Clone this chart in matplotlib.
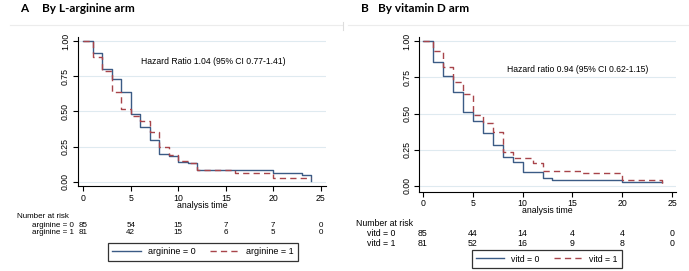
import matplotlib
matplotlib.use("Agg")
import matplotlib.pyplot as plt
from matplotlib.lines import Line2D
from matplotlib.transforms import blended_transform_factory

# ============================================
# Data
# ============================================

risk_times = [0, 5, 10, 15, 20, 25]

# Panel A: by L-arginine arm
times_a0 = [0, 1, 2, 3, 4, 5, 6, 7, 8, 9, 10, 11, 12, 20, 23, 24]
surv_a0 = [1.0, 0.915, 0.80, 0.73, 0.637, 0.48, 0.39, 0.30, 0.20, 0.185, 0.14, 0.13, 0.083, 0.06, 0.048, 0.007]
times_a1 = [0, 1, 2, 3, 4, 5, 6, 7, 8, 9, 10, 11, 12, 16, 20, 24]
surv_a1 = [1.0, 0.886, 0.79, 0.64, 0.52, 0.47, 0.43, 0.356, 0.245, 0.19, 0.147, 0.135, 0.08, 0.06, 0.024, 0.024]
risk_a0 = [85, 54, 15, 7, 7, 0]
risk_a1 = [81, 42, 15, 6, 5, 0]
labels_a = ["arginine = 0", "arginine = 1"]
title_a = "By L-arginine arm"
hr_a = "Hazard Ratio 1.04 (95% CI 0.77-1.41)"

# Panel B: by vitamin D arm
times_b0 = [0, 1, 2, 3, 4, 5, 6, 7, 8, 9, 10, 12, 13, 20, 24]
surv_b0 = [1.0, 0.855, 0.758, 0.652, 0.509, 0.451, 0.368, 0.285, 0.198, 0.166, 0.098, 0.058, 0.041, 0.03, 0.03]
times_b1 = [0, 1, 2, 3, 4, 5, 6, 7, 8, 9, 11, 12, 16, 20, 24]
surv_b1 = [1.0, 0.935, 0.822, 0.719, 0.638, 0.489, 0.437, 0.373, 0.232, 0.195, 0.161, 0.104, 0.09, 0.041, 0.007]
risk_b0 = [85, 44, 14, 4, 4, 0]
risk_b1 = [81, 52, 16, 9, 8, 0]
labels_b = ["vitd = 0", "vitd = 1"]
title_b = "By vitamin D arm"
hr_b = "Hazard ratio 0.94 (95% CI 0.62-1.15)"

# ============================================
# Style
# ============================================

W, H = 689, 271
BLUE = "#3b5b85"
RED = "#a8444a"
GRID = "#dfeaf0"
FONT = ["Liberation Sans", "DejaVu Sans"]
TITLE_FONT = ["Lato", "DejaVu Sans"]
plt.rcParams["font.family"] = FONT


def fx(x):
    return x / W


def fy(y):
    return 1 - y / H


fig = plt.figure(figsize=(W / 100, H / 100), dpi=100)
fig.patch.set_facecolor("white")


def km_panel(box, x0px, x25px, y1px, y0px, t0, s0, t1, s1, hr, hr_xy):
    left, top, right, bottom = box
    ax = fig.add_axes([fx(left), fy(bottom), fx(right - left), (bottom - top) / H])
    xs = (x25px - x0px) / 25.0
    ys = (y0px - y1px)
    ax.set_xlim(-(x0px - left) / xs, 25 + (right - x25px) / xs)
    ax.set_ylim(-(bottom - y0px) / ys, 1 + (y1px - top) / ys)

    ax.step(t0, s0, where="post", color=BLUE, lw=1.0)
    ax.step(t1, s1, where="post", color=RED, lw=1.0, dashes=(4.5, 3))

    ax.set_yticks([0, 0.25, 0.5, 0.75, 1.0])
    ax.set_yticklabels(["0.00", "0.25", "0.50", "0.75", "1.00"], rotation=90, va="center")
    ax.set_xticks(risk_times)
    ax.grid(axis="y", color=GRID, lw=0.8)
    ax.set_axisbelow(True)
    for s in ["top", "right"]:
        ax.spines[s].set_visible(False)
    for s in ["left", "bottom"]:
        ax.spines[s].set_linewidth(0.8)
    ax.tick_params(length=3.5, width=0.8, labelsize=6.3, pad=2)
    ax.set_xlabel("analysis time", fontsize=6.3, labelpad=-1.5)
    ax.text(hr_xy[0], hr_xy[1], hr, transform=fig.transFigure, fontsize=6.2, va="center", ha="left")
    return ax


def risk_table(ax, labels, r0, r1, head_xy, label_right, row_y, fs):
    fig.text(fx(head_xy[0]), fy(head_xy[1]), "Number at risk", fontsize=fs, va="center", ha="left")
    trans = blended_transform_factory(ax.transData, fig.transFigure)
    for lab, vals, y in zip(labels, [r0, r1], row_y):
        fig.text(fx(label_right), fy(y), lab, fontsize=fs, va="center", ha="right")
        for t, v in zip(risk_times, vals):
            ax.text(t, fy(y), str(v), transform=trans, fontsize=fs, va="center", ha="center",
                    clip_on=False)


def legend(ax, labels, center, fs):
    handles = [Line2D([], [], color=BLUE, lw=1.0),
               Line2D([], [], color=RED, lw=1.0, dashes=(4.5, 3))]
    leg = ax.legend(handles, labels, loc="center", bbox_to_anchor=(fx(center[0]), fy(center[1])),
                    bbox_transform=fig.transFigure, ncol=2, fontsize=fs, frameon=True,
                    fancybox=False, edgecolor="black", handlelength=3.2, columnspacing=1.6,
                    borderpad=0.5, handletextpad=0.8, borderaxespad=0)
    leg.get_frame().set_linewidth(0.9)


# ============================================
# Panel A
# ============================================

ax_a = km_panel((77.7, 36.7, 326, 186), 83.3, 320.7, 41.3, 181.7,
                times_a0, surv_a0, times_a1, surv_a1, hr_a, (fx(141), fy(62)))
risk_table(ax_a, labels_a, risk_a0, risk_a1, (17, 217), 74, [225.3, 232.3], 5.8)
legend(ax_a, labels_a, (203, 251.7), 6.5)
fig.text(fx(20), fy(9), "A", fontsize=8.5, fontweight="bold", family=TITLE_FONT, va="center")
fig.text(fx(42), fy(9), title_a, fontsize=8.5, fontweight="bold", family=TITLE_FONT, va="center")

# ============================================
# Panel B
# ============================================

ax_b = km_panel((419, 36.7, 676, 191.5), 422.7, 672.3, 41.3, 186,
                times_b0, surv_b0, times_b1, surv_b1, hr_b, (fx(507), fy(69.7)))
risk_table(ax_b, labels_b, risk_b0, risk_b1, (356, 224), 395.5, [233.3, 243.3], 6.3)
legend(ax_b, labels_b, (546.7, 259), 6.3)
fig.text(fx(361), fy(8), "B", fontsize=8.5, fontweight="bold", family=TITLE_FONT, va="center")
fig.text(fx(378), fy(8), title_b, fontsize=8.5, fontweight="bold", family=TITLE_FONT, va="center")

# faint frame lines of the original figure panels
fig.add_artist(Line2D([fx(10), fx(342)], [fy(25), fy(25)], color="#ececec", lw=0.8))
fig.add_artist(Line2D([fx(348), fx(689)], [fy(25), fy(25)], color="#ececec", lw=0.8))
fig.add_artist(Line2D([fx(343), fx(343)], [fy(22), fy(30)], color="#dddddd", lw=0.8))

fig.savefig("out.png", dpi=100, facecolor="white")
